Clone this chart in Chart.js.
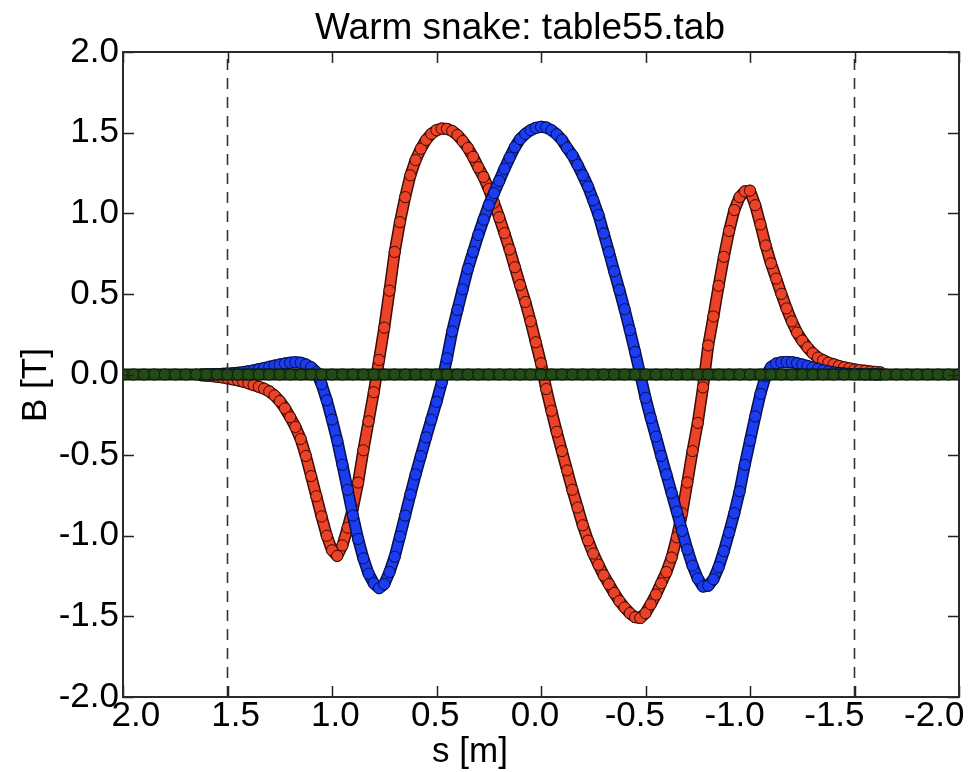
<!DOCTYPE html>
<html>
<head>
<meta charset="utf-8">
<title>Warm snake: table55.tab</title>
<script src="https://cdn.jsdelivr.net/npm/chart.js@4/dist/chart.umd.min.js"></script>
<style>
  html, body { margin: 0; padding: 0; background: #ffffff; }
  #wrap { width: 980px; height: 772px; position: relative; }
  canvas { display: block; }
</style>
</head>
<body>
<div id="wrap"><canvas id="c" width="980" height="772"></canvas></div>
<script>
// Longitudinal positions s [m] of the field samples (beam direction runs right to left).
const sPos = [
  1.625, 1.6, 1.575, 1.55, 1.525, 1.5, 1.475, 1.45, 1.425, 1.4,
  1.375, 1.35, 1.325, 1.3, 1.275, 1.25, 1.225, 1.2, 1.175, 1.15,
  1.125, 1.1, 1.075, 1.05, 1.025, 1.0, 0.975, 0.95, 0.925, 0.9,
  0.875, 0.85, 0.825, 0.8, 0.775, 0.75, 0.725, 0.7, 0.675, 0.65,
  0.625, 0.6, 0.575, 0.55, 0.525, 0.5, 0.475, 0.45, 0.425, 0.4,
  0.375, 0.35, 0.325, 0.3, 0.275, 0.25, 0.225, 0.2, 0.175, 0.15,
  0.125, 0.1, 0.075, 0.05, 0.025, 0.0,
  -0.025, -0.05, -0.075, -0.1, -0.125, -0.15, -0.175, -0.2, -0.225, -0.25,
  -0.275, -0.3, -0.325, -0.35, -0.375, -0.4, -0.425, -0.45, -0.475, -0.5,
  -0.525, -0.55, -0.575, -0.6, -0.625, -0.65, -0.675, -0.7, -0.725, -0.75,
  -0.775, -0.8, -0.825, -0.85, -0.875, -0.9, -0.925, -0.95, -0.975, -1.0,
  -1.025, -1.05, -1.075, -1.1, -1.125, -1.15, -1.175, -1.2, -1.225, -1.25,
  -1.275, -1.3, -1.325, -1.35, -1.375, -1.4, -1.425, -1.45, -1.475, -1.5,
  -1.525, -1.55, -1.575, -1.6, -1.625
];

// Field component shown in red [T]
const bRed = [
  -0.005, -0.008, -0.010, -0.014, -0.018, -0.024, -0.030, -0.036, -0.044, -0.054,
  -0.065, -0.076, -0.088, -0.105, -0.130, -0.165, -0.210, -0.265, -0.325, -0.400,
  -0.505, -0.630, -0.755, -0.880, -1.000, -1.090, -1.125, -1.060, -0.950, -0.830,
  -0.670, -0.470, -0.290, -0.110, 0.090, 0.290, 0.520, 0.760, 0.945, 1.100,
  1.235, 1.330, 1.400, 1.455, 1.492, 1.515, 1.525, 1.523, 1.510, 1.485,
  1.448, 1.405, 1.350, 1.285, 1.225, 1.150, 1.065, 0.975, 0.877, 0.775,
  0.665, 0.555, 0.450, 0.330, 0.200, 0.070,
  -0.090, -0.225, -0.355, -0.475, -0.595, -0.715, -0.825, -0.935, -1.030, -1.110,
  -1.180, -1.245, -1.300, -1.355, -1.405, -1.445, -1.480, -1.505, -1.510, -1.480,
  -1.425, -1.365, -1.295, -1.225, -1.135, -1.010, -0.860, -0.670, -0.475, -0.300,
  -0.080, 0.180, 0.360, 0.550, 0.730, 0.890, 1.020, 1.100, 1.135, 1.140,
  1.050, 0.930, 0.800, 0.690, 0.595, 0.500, 0.410, 0.330, 0.260, 0.210,
  0.168, 0.132, 0.105, 0.088, 0.073, 0.063, 0.053, 0.045, 0.038, 0.032,
  0.027, 0.023, 0.019, 0.016, 0.013
];

// Field component shown in blue [T]
const bBlue = [
  0.000, 0.001, 0.002, 0.003, 0.004, 0.006, 0.008, 0.011, 0.015, 0.020,
  0.026, 0.033, 0.040, 0.048, 0.055, 0.062, 0.068, 0.073, 0.076, 0.073,
  0.062, 0.045, 0.015, -0.060, -0.160, -0.280, -0.410, -0.560, -0.715, -0.875,
  -1.020, -1.140, -1.235, -1.295, -1.325, -1.300, -1.225, -1.130, -1.005, -0.875,
  -0.745, -0.620, -0.505, -0.390, -0.280, -0.170, -0.050, 0.100, 0.267, 0.400,
  0.528, 0.655, 0.760, 0.865, 0.960, 1.050, 1.125, 1.200, 1.275, 1.345,
  1.410, 1.460, 1.492, 1.515, 1.530, 1.536,
  1.532, 1.515, 1.490, 1.455, 1.405, 1.360, 1.300, 1.235, 1.165, 1.080,
  0.990, 0.875, 0.760, 0.640, 0.525, 0.405, 0.275, 0.140, 0.000, -0.145,
  -0.270, -0.385, -0.505, -0.620, -0.735, -0.850, -0.970, -1.085, -1.185, -1.265,
  -1.315, -1.310, -1.270, -1.195, -1.095, -0.980, -0.860, -0.725, -0.560, -0.410,
  -0.260, -0.120, -0.010, 0.045, 0.068, 0.076, 0.078, 0.076, 0.070, 0.062,
  0.053, 0.043, 0.034, 0.026, 0.019, 0.013, 0.009, 0.006, 0.004, 0.003,
  0.002, 0.001, 0.001, 0.000, 0.000
];

// Third component (green), sampled over the full window
const sGreen = [
  2.0, 1.95, 1.9, 1.85, 1.8, 1.75, 1.7, 1.65, 1.6, 1.55,
  1.5, 1.45, 1.4, 1.35, 1.3, 1.25, 1.2, 1.15, 1.1, 1.05,
  1.0, 0.95, 0.9, 0.85, 0.8, 0.75, 0.7, 0.65, 0.6, 0.55,
  0.5, 0.45, 0.4, 0.35, 0.3, 0.25, 0.2, 0.15, 0.1, 0.05,
  0.0, -0.05, -0.1, -0.15, -0.2, -0.25, -0.3, -0.35, -0.4, -0.45,
  -0.5, -0.55, -0.6, -0.65, -0.7, -0.75, -0.8, -0.85, -0.9, -0.95,
  -1.0, -1.05, -1.1, -1.15, -1.2, -1.25, -1.3, -1.35, -1.4, -1.45,
  -1.5, -1.55, -1.6, -1.65, -1.7, -1.75, -1.8, -1.85, -1.9, -1.95, -2.0
];
const bGreen = [
  0, 0, 0, 0, 0, 0, 0, 0, 0, 0,
  0, 0, 0, 0, 0, 0, 0, 0, 0, 0,
  0, 0, 0, 0, 0, 0, 0, 0, 0, 0,
  0, 0, 0, 0, 0, 0, 0, 0, 0, 0,
  0, 0, 0, 0, 0, 0, 0, 0, 0, 0,
  0, 0, 0, 0, 0, 0, 0, 0, 0, 0,
  0, 0, 0, 0, 0, 0, 0, 0, 0, 0,
  0, 0, 0, 0, 0, 0, 0, 0, 0, 0, 0
];

// Magnet ends (dashed markers) and axis ticks
const magnetEnds = [1.5, -1.5];
const xTicks = [2.0, 1.5, 1.0, 0.5, 0.0, -0.5, -1.0, -1.5, -2.0];
const yTicks = [-2.0, -1.5, -1.0, -0.5, 0.0, 0.5, 1.0, 1.5, 2.0];

const FONT = '"Liberation Sans", Arial, sans-serif';
const TICK_LEN = 11;
const fmt = v => (Math.abs(v) < 1e-9 ? 0 : v).toFixed(1);

function pts(xs, ys) { return xs.map((x, i) => ({ x: x, y: ys[i] })); }

// One field component = a dark under-band plus the coloured marker chain.
function component(label, xs, ys, fill, edge, order) {
  return [
    {
      label: label + ' band', data: pts(xs, ys), showLine: true,
      borderColor: edge, borderWidth: 12, pointRadius: 0, order: order + 1,
      borderCapStyle: 'round', borderJoinStyle: 'round', clip: 0
    },
    {
      label: label, data: pts(xs, ys), showLine: true,
      borderColor: fill, borderWidth: 9, pointRadius: 5.6, pointBorderWidth: 1,
      pointBackgroundColor: fill, pointBorderColor: edge, order: order,
      borderCapStyle: 'round', borderJoinStyle: 'round', clip: 0
    }
  ];
}

const datasets = [
  ...magnetEnds.map(s => ({
    label: 'end ' + s, data: [{ x: s, y: yTicks[0] }, { x: s, y: yTicks[yTicks.length - 1] }],
    showLine: true, borderColor: '#333333', borderWidth: 1.6, borderDash: [11, 8],
    pointRadius: 0, order: -1
  })),
  ...component('Bgreen', sGreen, bGreen, '#244a18', '#0b1a06', 0),
  ...component('Bblue', sPos, bBlue, '#1b3cf0', '#06104a', 2),
  ...component('Bred', sPos, bRed, '#ec4227', '#3a0d05', 4)
];

// Axes frame with inward ticks on all four sides, plus the s tick labels
const framePlugin = {
  id: 'frame',
  afterDatasetsDraw(chart) {
    const { ctx, chartArea: a, scales: { x, y } } = chart;
    ctx.save();
    ctx.strokeStyle = '#222222';
    ctx.lineWidth = 1.5;
    ctx.beginPath();
    xTicks.forEach(v => {
      const px = Math.round(x.getPixelForValue(v)) + 0.5;
      ctx.moveTo(px, a.bottom); ctx.lineTo(px, a.bottom - TICK_LEN);
      ctx.moveTo(px, a.top); ctx.lineTo(px, a.top + TICK_LEN);
    });
    yTicks.forEach(v => {
      const py = Math.round(y.getPixelForValue(v)) + 0.5;
      ctx.moveTo(a.left, py); ctx.lineTo(a.left + TICK_LEN, py);
      ctx.moveTo(a.right, py); ctx.lineTo(a.right - TICK_LEN, py);
    });
    ctx.stroke();
    ctx.strokeStyle = '#2a2a2a';
    ctx.lineWidth = 2;
    ctx.strokeRect(a.left, a.top, a.right - a.left, a.bottom - a.top);

    // s labels sit slightly tighter than the tick spacing, so the outer ones stay inside
    const mid = (a.left + a.right) / 2;
    ctx.fillStyle = '#000000';
    ctx.font = '35px ' + FONT;
    ctx.textAlign = 'center';
    ctx.textBaseline = 'top';
    xTicks.forEach(v => {
      const px = x.getPixelForValue(v);
      ctx.fillText(fmt(v), mid - 6 + (px - mid) * 0.955, a.bottom + 2);
    });
    ctx.restore();
  }
};

// Title and axis labels
const labelPlugin = {
  id: 'labels',
  afterDraw(chart) {
    const { ctx } = chart;
    ctx.save();
    ctx.fillStyle = '#000000';
    ctx.textAlign = 'center';
    ctx.textBaseline = 'middle';
    ctx.font = '37px ' + FONT;
    ctx.fillText('Warm snake: table55.tab', 520, 29);
    ctx.font = '35px ' + FONT;
    ctx.fillText('s [m]', 470, 752);
    ctx.translate(36, 385);
    ctx.rotate(-Math.PI / 2);
    ctx.fillText('B [T]', 0, 0);
    ctx.restore();
  }
};

new Chart(document.getElementById('c'), {
  type: 'scatter',
  data: { datasets: datasets },
  options: {
    responsive: false,
    animation: false,
    devicePixelRatio: 1,
    layout: { padding: { top: 52, right: 21, left: 0, bottom: 0 } },
    plugins: { legend: { display: false }, tooltip: { enabled: false }, title: { display: false } },
    elements: { line: { tension: 0 } },
    scales: {
      x: {
        type: 'linear', position: 'bottom', reverse: true,
        min: xTicks[xTicks.length - 1], max: xTicks[0],
        grid: { display: false, drawTicks: false },
        border: { display: false },
        afterBuildTicks: s => { s.ticks = xTicks.map(v => ({ value: v })); },
        ticks: { display: false },
        afterFit: s => { s.height = 75; s.paddingLeft = 0; s.paddingRight = 0; }
      },
      y: {
        type: 'linear', position: 'left',
        min: yTicks[0], max: yTicks[yTicks.length - 1],
        grid: { display: false, drawTicks: false },
        border: { display: false },
        afterBuildTicks: s => { s.ticks = yTicks.map(v => ({ value: v })); },
        ticks: {
          padding: 4, color: '#000000', autoSkip: false,
          font: { family: FONT, size: 35 },
          callback: v => fmt(v)
        },
        afterFit: s => { s.width = 123; s.paddingTop = 0; s.paddingBottom = 0; }
      }
    }
  },
  plugins: [framePlugin, labelPlugin]
});
</script>
</body>
</html>
